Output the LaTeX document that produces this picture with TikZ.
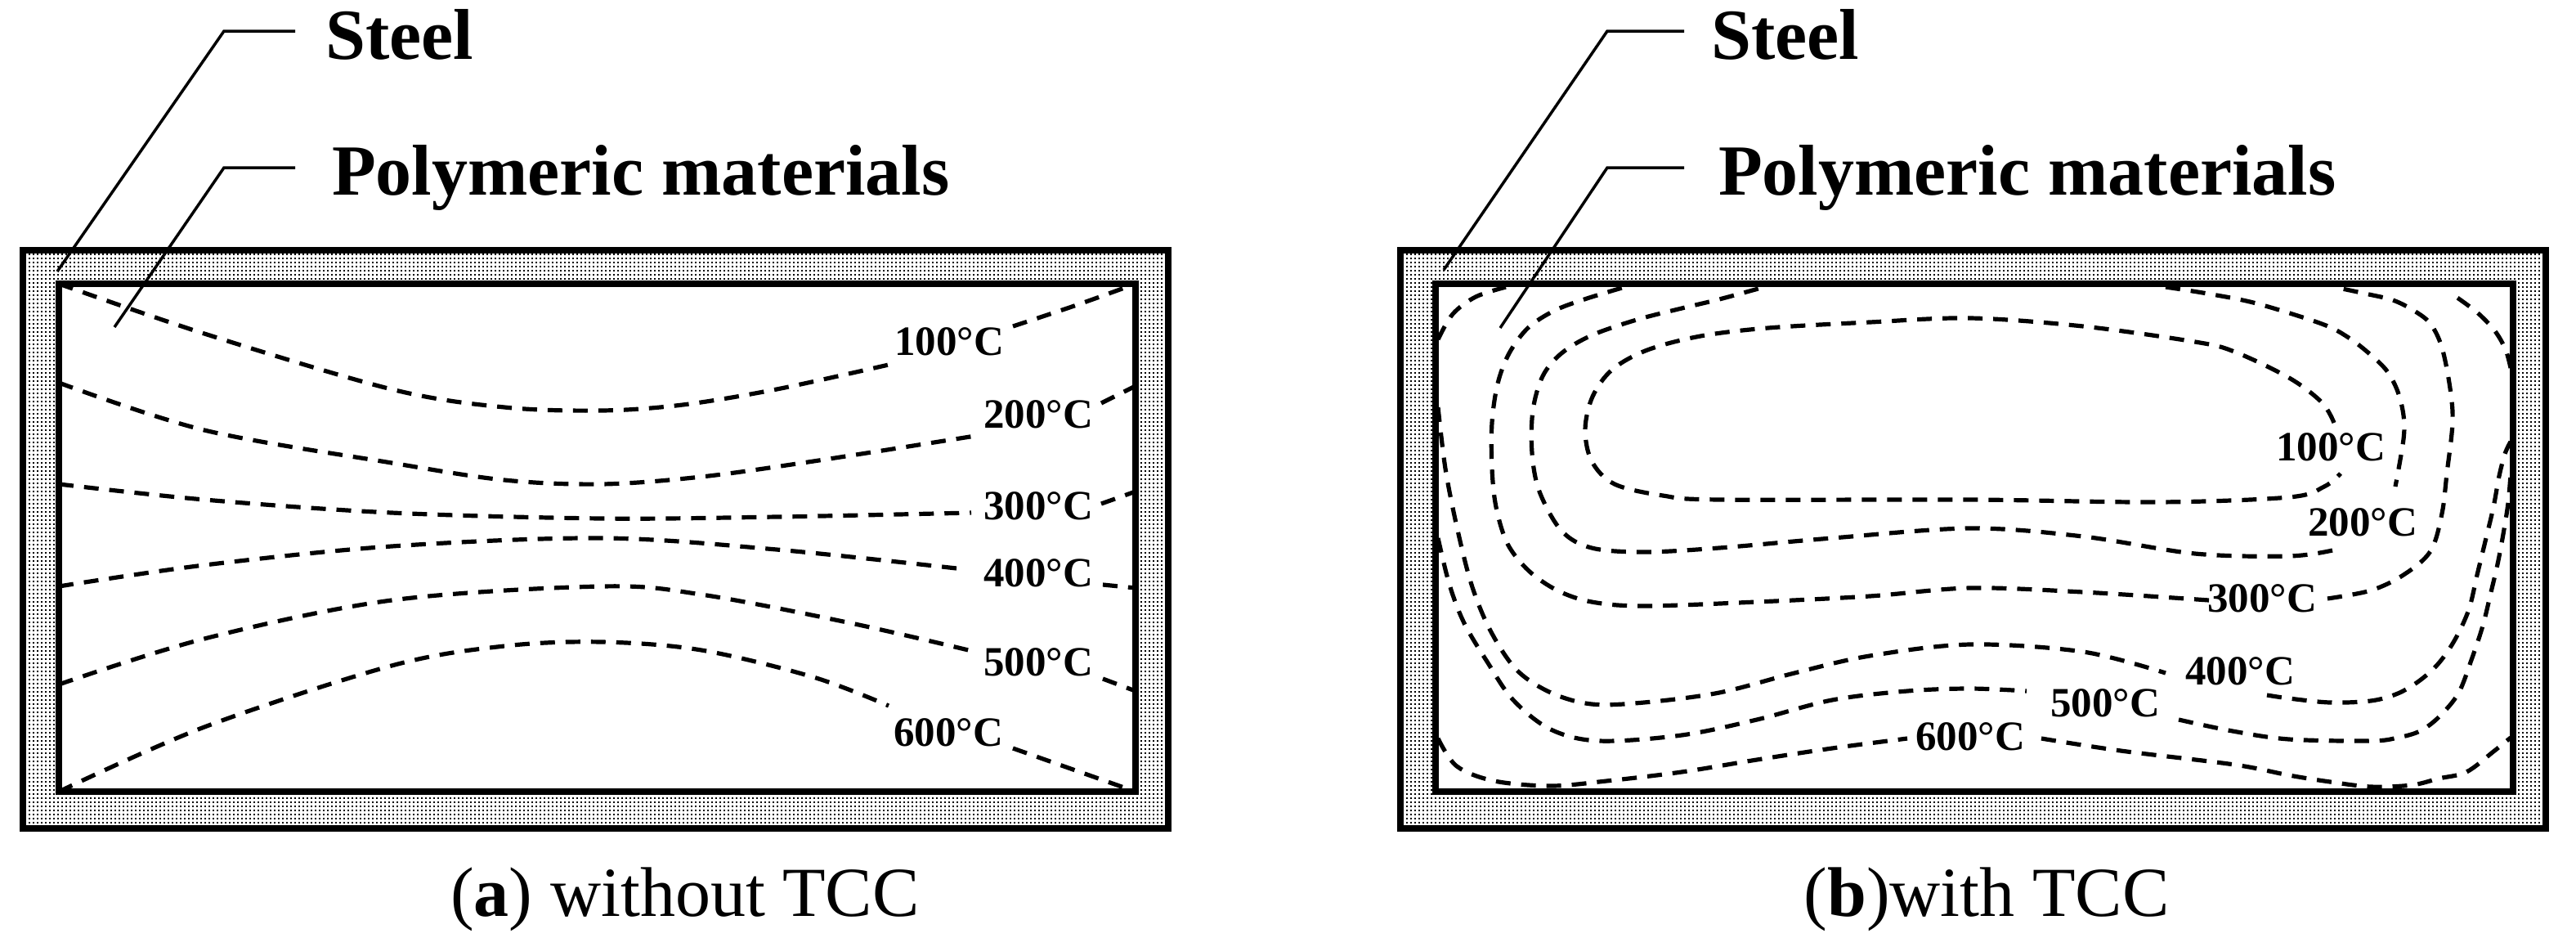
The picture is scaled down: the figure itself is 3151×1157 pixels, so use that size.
\documentclass[tikz,border=0pt]{standalone}
\usepackage{fontspec}
\setmainfont{Liberation Serif}
\usetikzlibrary{patterns}
\pgfdeclarepatternformonly{steeldots}{\pgfpoint{-0.5pt}{-0.5pt}}{\pgfpoint{5.5pt}{5.5pt}}{\pgfpoint{5pt}{5pt}}{%
  \pgfpathrectangle{\pgfpoint{0pt}{0pt}}{\pgfpoint{2.4pt}{2.4pt}}\pgfusepath{fill}}
\tikzset{
  wall/.style={line width=7.5pt},
  contour/.style={line width=5.2pt, dash pattern=on 18pt off 13pt},
  leader/.style={line width=3.5pt},
  tlabel/.style={font=\fontsize{51}{60}\selectfont\bfseries, inner sep=0pt},
  mlabel/.style={font=\fontsize{88}{100}\selectfont\bfseries, inner sep=0pt, anchor=base west},
  capt/.style={font=\fontsize{86}{100}\selectfont, inner sep=0pt, anchor=base},
  sm/.style={smooth, tension=0.55},
}
\begin{document}
\begin{tikzpicture}[x=1pt,y=-1pt]
\useasboundingbox (0,0) rectangle (3151,1157);
\fill[white] (0,0) rectangle (3151,1157);

% ---------------- panel (a) ----------------
\fill[pattern=steeldots] (28,306) rectangle (1429,1013);
\fill[white] (72,347) rectangle (1389,968);

\draw[contour] plot[sm] coordinates {(72,347) (250,408) (479,476) (617,498) (736,502) (835,495) (950,476) (1087,446)};
\draw[contour] plot[sm] coordinates {(1239,399) (1317,373) (1389,347)};
\draw[contour] plot[sm] coordinates {(72,468) (250,526) (479,566) (617,587) (736,592) (858,583) (995,564) (1193,533)};
\draw[contour] plot[sm] coordinates {(1347,493) (1389,472)};
\draw[contour] plot[sm] coordinates {(72,592) (250,611) (479,627) (736,634) (950,632) (1188,627)};
\draw[contour] plot[sm] coordinates {(1347,616) (1389,601)};
\draw[contour] plot[sm] coordinates {(72,717) (250,691) (479,668) (736,658) (950,672) (1179,696)};
\draw[contour] plot[sm] coordinates {(1349,715) (1389,719)};
\draw[contour] plot[sm] coordinates {(72,837) (250,781) (479,734) (736,717) (858,727) (1041,762) (1193,797)};
\draw[contour] plot[sm] coordinates {(1349,830) (1389,845)};
\draw[contour] plot[sm] coordinates {(72,968) (250,889) (479,814) (617,790) (736,785) (858,795) (995,828) (1087,863)};
\draw[contour] plot[sm] coordinates {(1239,915) (1389,968)};

\node[tlabel] (a100) at (1161,418) {100°C};
\node[tlabel] (a200) at (1270,507) {200°C};
\node[tlabel] (a300) at (1270,619) {300°C};
\node[tlabel] (a400) at (1270,701) {400°C};
\node[tlabel] (a500) at (1270,810) {500°C};
\node[tlabel] (a600) at (1160,896) {600°C};

\draw[wall] (28,306) rectangle (1429,1013);
\draw[wall] (72,347) rectangle (1389,968);

\node[mlabel] (asteel) at (398,72) {Steel};
\node[mlabel] (apoly) at (406,238) {Polymeric materials};
\coordinate (as1) at (361,38); \coordinate (as2) at (274,38); \coordinate (as3) at (70,332);
\coordinate (ap1) at (361,205); \coordinate (ap2) at (274,205); \coordinate (ap3) at (140,400);
\draw[leader] (as1) -- (as2) -- (as3);
\draw[leader] (ap1) -- (ap2) -- (ap3);

\node[capt] (capa) at (838,1120) {(\textbf{a}) without TCC};

% ---------------- panel (b) ----------------
\fill[pattern=steeldots] (1713,306) rectangle (3114,1013);
\fill[white] (1756,347) rectangle (3074,968);

% 100
\draw[contour] plot[sm] coordinates {(2855,517) (2840,492) (2800,462) (2733,430) (2685,418) (2548,399) (2410,389) (2287,394) (2163,401) (2080,411) (2015,428) (1972,452) (1948,485) (1939,525) (1947,564) (1975,592) (2034,606) (2103,611) (2410,611) (2640,614) (2800,608) (2843,595) (2863,579)};
% 200
\draw[contour] plot[sm] coordinates {(2853,673) (2800,680) (2685,677) (2548,656) (2410,646) (2241,658) (2103,670) (2011,675) (1947,670) (1910,649) (1883,601) (1874,554) (1875,502) (1887,460) (1910,432) (1947,410) (2002,391) (2057,377) (2103,366) (2158,351)};
\draw[contour] plot[sm] coordinates {(2649,351) (2700,359) (2760,371) (2840,396) (2873,413) (2900,434) (2920,454) (2933,479) (2940,508) (2940,537) (2930,595)};
% 300
\draw[contour] plot[sm] coordinates {(2702,734) (2548,724) (2410,719) (2287,729) (2149,736) (2011,741) (1947,736) (1905,722) (1870,698) (1844,665) (1830,620) (1825,573) (1825,517) (1832,469) (1846,432) (1869,401) (1901,380) (1938,366) (1984,352)};
\draw[contour] plot[sm] coordinates {(2847,732) (2900,722) (2940,703) (2973,674) (2987,628) (2993,579) (3000,517) (2997,475) (2987,425) (2973,396) (2953,380) (2927,367) (2893,359) (2860,352)};
% 400
\draw[contour] plot[sm] coordinates {(1759,498) (1768,573) (1782,644) (1800,715) (1823,771) (1855,819) (1897,847) (1947,861) (2011,859) (2103,847) (2195,823) (2287,802) (2410,788) (2548,797) (2649,823)};
\draw[contour] plot[sm] coordinates {(2773,850) (2800,854) (2850,859) (2900,857) (2933,848) (2960,832) (2983,811) (3003,782) (3020,745) (3030,703) (3040,662) (3050,620) (3057,582) (3064,555) (3071,540)};
\draw[contour] plot[sm] coordinates {(1759,415) (1777,384) (1805,363) (1842,351)};
% 500
\draw[contour] plot[sm] coordinates {(1759,658) (1773,715) (1791,762) (1819,809) (1851,856) (1897,892) (1956,906) (2057,899) (2149,880) (2241,856) (2333,845) (2410,842) (2479,845)};
\draw[contour] plot[sm] coordinates {(2665,880) (2731,894) (2800,904) (2900,906) (2933,902) (2960,894) (2983,877) (3007,848) (3023,807) (3037,765) (3047,724) (3055,690) (3062,653) (3068,615) (3071,580)};
\draw[contour] plot[sm] coordinates {(3071,450) (3065,428) (3052,405) (3030,382) (3000,360)};
% 600
\draw[contour] plot[sm] coordinates {(1759,903) (1782,937) (1828,955) (1897,961) (1965,955) (2057,944) (2149,929) (2241,915) (2333,903)};
\draw[contour] plot[sm] coordinates {(2497,903) (2594,918) (2733,935) (2800,948) (2850,956) (2900,962) (2950,960) (2983,952) (3017,944) (3050,919) (3071,902)};

\node[tlabel] (b100) at (2851,547) {100°C};
\node[tlabel] (b200) at (2890,639) {200°C};
\node[tlabel] (b300) at (2767,732) {300°C};
\node[tlabel] (b400) at (2740,821) {400°C};
\node[tlabel] (b500) at (2575,860) {500°C};
\node[tlabel] (b600) at (2410,901) {600°C};

\draw[wall] (1713,306) rectangle (3114,1013);
\draw[wall] (1756,347) rectangle (3074,968);

\node[mlabel] (bsteel) at (2093,72) {Steel};
\node[mlabel] (bpoly) at (2102,238) {Polymeric materials};
\coordinate (bs1) at (2060,38); \coordinate (bs2) at (1966,38); \coordinate (bs3) at (1766,330);
\coordinate (bp1) at (2060,205); \coordinate (bp2) at (1966,205); \coordinate (bp3) at (1835,401);
\draw[leader] (bs1) -- (bs2) -- (bs3);
\draw[leader] (bp1) -- (bp2) -- (bp3);

\node[capt] (capb) at (2430,1120) {(\textbf{b})with TCC};
\end{tikzpicture}
\end{document}
